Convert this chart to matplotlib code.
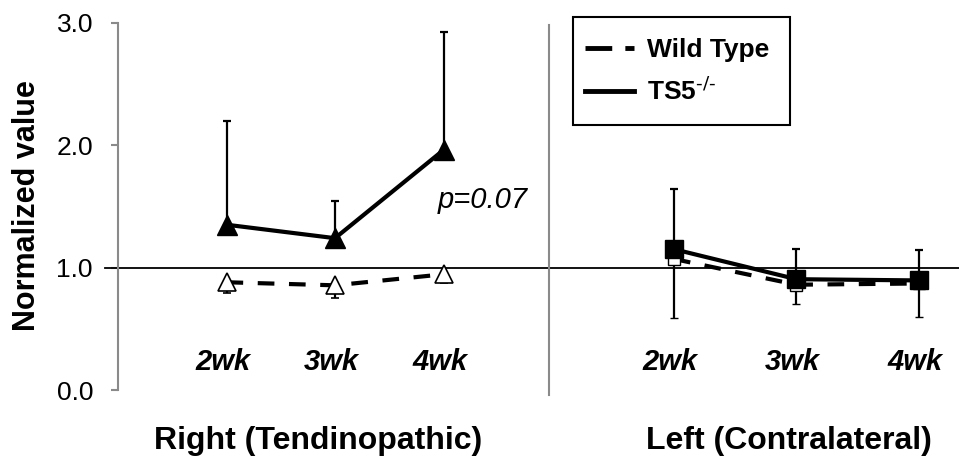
import numpy as np
import matplotlib
matplotlib.use("Agg")
import matplotlib.pyplot as plt
from matplotlib.lines import Line2D
from matplotlib.patches import Rectangle

plt.rcParams['font.family'] = ['Liberation Sans', 'DejaVu Sans']
plt.rcParams['mathtext.default'] = 'regular'

# Datos (valores normalizados)
semanas = ['2wk', '3wk', '4wk']
paneles = ['Right (Tendinopathic)', 'Left (Contralateral)']

ts5_right = [1.35, 1.24, 1.96]
ts5_right_err = [0.85, 0.30, 0.96]      # solo hacia arriba
wt_right = [0.88, 0.855, 0.945]
wt_right_err = [0.085, 0.105, 0.07]     # solo hacia abajo

ts5_left = [1.15, 0.905, 0.895]
ts5_left_err = [0.49, 0.245, 0.25]
wt_left = [1.07, 0.86, 0.87]
wt_left_err = [0.48, 0.16, 0.27]

p_text = 'p=0.07'

W, H = 959, 468
fig = plt.figure(figsize=(W / 100, H / 100), dpi=100)

y0, y1 = 390, 22.7   # pixel de 0.0 y 3.0
bottom = (H - y0) / H
height = (y0 - y1) / H
ax1 = fig.add_axes([118 / W, bottom, (549 - 118) / W, height])
ax2 = fig.add_axes([549 / W, bottom, (W - 549) / W, height])

x = np.arange(1, len(semanas) + 1)
gris = '#8a8a8a'

err_kw = dict(ecolor='black', elinewidth=1.6, capsize=3.2, capthick=1.6)

# Panel derecho
ax1.errorbar(x, wt_right, yerr=[wt_right_err, np.zeros(3)], color='black', lw=3,
             dashes=(4, 3.5), marker='^', ms=13, mfc='white', mec='black', mew=1.2,
             zorder=3, **err_kw)
ax1.errorbar(x, ts5_right, yerr=[np.zeros(3), ts5_right_err], color='black', lw=3,
             marker='^', ms=14, mfc='black', mec='black', zorder=4, **err_kw)

# Panel izquierdo
ax2.errorbar(x, wt_left, yerr=[wt_left_err, np.zeros(3)], color='black', lw=3,
             dashes=(4, 3.5), marker='s', ms=9, mfc='white', mec='black', mew=1.0,
             zorder=3, **err_kw)
ax2.errorbar(x, ts5_left, yerr=[np.zeros(3), ts5_left_err], color='black', lw=3,
             marker='s', ms=12.5, mfc='black', mec='black', zorder=4, **err_kw)

ax1.set_xlim(0, 431 / 108.5)
ax2.set_xlim(-0.02, 410 / 122.5 - 0.02)
for ax in (ax1, ax2):
    ax.set_ylim(0, 3)
    ax.set_xticks([])
    for s in ['top', 'right', 'bottom', 'left']:
        ax.spines[s].set_visible(False)
    ax.patch.set_alpha(0)

# eje y
ax1.spines['left'].set_visible(True)
ax1.spines['left'].set_color(gris)
ax1.spines['left'].set_linewidth(1.5)
ax1.set_yticks([0, 1, 2, 3])
ax1.set_yticklabels(['0.0', '1.0', '2.0', '3.0'])
ax1.tick_params(axis='y', direction='out', length=5, width=1.5, color=gris,
                labelsize=19, pad=13)
ax2.set_yticks([])

# linea de referencia en 1.0
ax1.axhline(1.0, xmin=-0.03, xmax=1, color='black', lw=1.3, clip_on=False, zorder=2)
ax2.axhline(1.0, color='black', lw=1.3, zorder=2)

# separador
ax2.axvline(ax2.get_xlim()[0], ymin=-0.014, ymax=0.994, color=gris, lw=1.5, clip_on=False)

# etiquetas de semana
for ax in (ax1, ax2):
    for xi, s in zip(x, semanas):
        ax.text(xi - 0.03, 0.23, s, ha='center', va='center', fontsize=21,
                fontweight='bold', fontstyle='italic')

ax1.text(3.0 - 0.05, 1.55, p_text, ha='left', va='center', fontsize=21, fontstyle='italic')

# textos de panel
fig.text(318 / W, 1 - 441 / H, paneles[0], ha='center', va='center', fontsize=23,
         fontweight='bold')
fig.text(789 / W, 1 - 441 / H, paneles[1], ha='center', va='center', fontsize=23,
         fontweight='bold')
fig.text(27 / W, 1 - 206 / H, 'Normalized value', rotation=90, ha='center', va='center',
         fontsize=22, fontweight='bold')

# leyenda (marco dibujado aparte)
fig.patches.append(Rectangle((573 / W, 1 - 125 / H), (790 - 573) / W, (125 - 17) / H,
                             transform=fig.transFigure, facecolor='white',
                             edgecolor='black', lw=1.5, zorder=5))
handles = [Line2D([], [], color='black', lw=3.5, dashes=(5.5, 2.7)),
           Line2D([], [], color='black', lw=3.5)]
leg = fig.legend(handles, ['Wild Type', r'TS5$^{\text{-/-}}$'], loc='center left',
                 bbox_to_anchor=(585 / W, 1 - 71.5 / H), borderaxespad=0,
                 frameon=False, prop={'weight': 'bold', 'size': 19},
                 handlelength=1.85, handletextpad=0.5, labelspacing=0.58,
                 borderpad=0)
leg.set_zorder(6)

fig.savefig('out.png', dpi=100)
